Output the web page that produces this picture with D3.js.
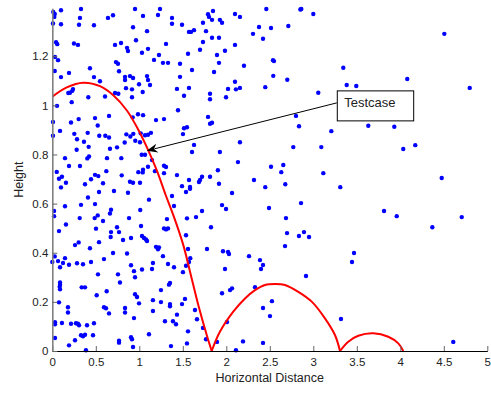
<!DOCTYPE html>
<html>
<head>
<meta charset="utf-8">
<script src="https://cdn.jsdelivr.net/npm/d3@7/dist/d3.min.js"></script>
<style>
  body { margin: 0; background: #fff; }
  svg { display: block; font-family: "Liberation Sans", Arial, Helvetica, sans-serif; }
</style>
</head>
<body>
<div id="chart"></div>
<script>
// scatter cloud [horizontal distance, height]
const scatterPoints = [
  [0.011,1.380],[0.028,1.372],[0.023,1.360],[0.100,1.387],[0.008,1.333],[0.100,1.330],[0.330,1.392],[0.318,1.356],
  [0.307,1.328],[0.479,1.326],[0.640,1.356],[0.698,1.367],[0.951,1.392],[1.043,1.364],[0.928,1.318],[1.089,1.302],
  [0.043,1.257],[0.057,1.249],[0.249,1.252],[0.295,1.246],[0.721,1.246],[0.790,1.254],[0.859,1.234],[0.870,1.221],
  [0.962,1.265],[1.031,1.214],[1.100,1.230],[0.031,1.197],[0.066,1.184],[0.732,1.176],[0.755,1.169],[0.028,1.140],
  [0.192,1.132],[0.433,1.151],[0.767,1.139],[0.100,1.115],[0.479,1.115],[0.548,1.098],[0.836,1.116],[0.836,1.103],
  [0.893,1.119],[0.928,1.111],[0.997,1.086],[1.089,1.119],[1.100,1.103],[0.847,1.070],[0.916,1.065],[0.238,1.066],
  [1.238,1.392],[1.215,1.368],[1.376,1.356],[1.376,1.332],[1.491,1.328],[1.790,1.371],[1.801,1.360],[1.847,1.384],
  [1.836,1.348],[1.926,1.348],[1.951,1.336],[1.732,1.336],[2.100,1.372],[2.157,1.360],[1.571,1.299],[1.594,1.299],
  [1.629,1.306],[1.767,1.302],[1.732,1.258],[1.836,1.275],[1.916,1.275],[2.100,1.246],[1.307,1.250],[1.226,1.205],
  [1.169,1.185],[1.272,1.173],[1.330,1.173],[1.468,1.169],[1.560,1.210],[1.698,1.226],[1.893,1.205],[1.985,1.222],
  [1.916,1.173],[1.859,1.136],[1.606,1.144],[2.203,1.161],[1.123,1.083],[1.468,1.116],[1.433,1.067],[1.571,1.071],
  [2.100,1.096],[2.020,1.067],[2.111,1.065],[2.157,1.071],
  [0.054,0.998],[0.184,1.050],[0.203,1.051],[0.230,1.059],[0.223,1.013],[0.414,1.033],[0.606,1.036],[0.721,1.050],
  [0.759,1.047],[0.916,1.033],[1.039,1.054],[0.008,0.932],[0.089,0.896],[0.215,0.930],[0.303,0.944],[0.491,0.948],
  [0.522,0.918],[0.652,0.957],[0.924,0.951],[0.985,0.964],[1.043,0.960],[0.008,0.876],[0.253,0.884],[0.284,0.862],
  [0.364,0.852],[0.407,0.888],[0.418,0.831],[0.540,0.876],[0.609,0.876],[0.652,0.869],[0.663,0.823],[0.744,0.829],
  [0.832,0.849],[0.851,0.882],[0.897,0.873],[0.931,0.884],[0.954,0.856],[1.008,0.850],[1.016,0.886],[0.280,0.819],
  [0.422,0.792],[0.402,0.784],[0.146,0.785],[0.192,0.753],[0.318,0.753],[0.629,0.785],[0.793,0.785],[1.028,0.799],
  [1.066,0.799],[0.051,0.729],[0.111,0.709],[0.491,0.717],[0.529,0.712],[0.621,0.732],[0.798,0.715],[0.989,0.728],
  [1.043,0.738],[1.100,0.750],[1.039,0.727],
  [1.514,1.039],[1.813,1.047],[1.813,1.025],[1.997,1.033],[1.445,0.980],[1.192,0.940],[1.284,0.944],[1.790,0.953],
  [1.813,0.925],[1.836,0.929],[2.157,0.850],[1.514,0.907],[1.548,0.911],[1.502,0.883],[1.066,0.878],[1.100,0.880],
  [1.134,0.888],[1.629,0.839],[1.606,0.810],[1.926,0.810],[2.134,0.769],[1.146,0.777],[1.284,0.754],[1.307,0.749],
  [1.180,0.732],[1.284,0.724],[1.433,0.716],[1.903,0.736],[1.721,0.709],[1.813,0.709],
  [0.077,0.701],[0.100,0.666],[0.157,0.685],[0.376,0.679],[0.445,0.699],[0.583,0.683],[0.537,0.647],[0.709,0.651],
  [0.870,0.644],[0.893,0.689],[0.928,0.685],[1.008,0.685],[0.410,0.625],[0.330,0.595],[0.491,0.598],[0.675,0.575],
  [0.663,0.560],[0.020,0.570],[0.020,0.549],[0.146,0.589],[0.315,0.541],[0.487,0.541],[0.522,0.552],[0.583,0.529],
  [0.882,0.541],[1.011,0.574],[1.111,0.616],[0.157,0.515],[0.502,0.498],[0.744,0.504],[0.675,0.484],[0.671,0.464],
  [0.767,0.484],[0.813,0.452],[0.905,0.460],[1.020,0.509],[1.031,0.468],[1.054,0.460],[1.077,0.454],[0.077,0.488],
  [0.537,0.443],[0.261,0.431],[0.303,0.442],[0.433,0.418],[0.698,0.399],[0.859,0.397],[0.028,0.385],[0.146,0.378],
  [0.000,0.362],[0.066,0.366],[0.123,0.358],[0.192,0.351],[0.284,0.357],[0.353,0.353],[0.445,0.362],[0.594,0.374],
  [0.905,0.349],
  [1.089,0.448],[1.192,0.424],[1.215,0.414],[1.226,0.422],[1.272,0.386],[1.157,0.358],[1.330,0.354],[1.284,0.499],
  [1.307,0.495],[1.330,0.499],[1.318,0.537],[1.376,0.631],[1.399,0.590],[1.491,0.671],[1.537,0.647],[1.583,0.668],
  [1.583,0.660],[1.571,0.696],[1.686,0.688],[1.698,0.696],[1.916,0.681],[2.066,0.643],[1.951,0.594],[1.997,0.578],
  [1.721,0.570],[1.652,0.545],[1.548,0.540],[1.824,0.504],[1.537,0.471],[1.560,0.415],[1.586,0.378],[1.571,0.362],
  [1.778,0.415],[1.962,0.406],[2.020,0.403],[2.031,0.395],[2.261,0.386],
  [0.089,0.341],[0.939,0.325],[1.031,0.332],[0.755,0.312],[0.525,0.312],[0.951,0.300],[0.778,0.279],[0.089,0.279],
  [0.089,0.270],[0.085,0.262],[0.089,0.251],[0.338,0.259],[0.376,0.259],[0.625,0.243],[0.510,0.227],[0.077,0.198],
  [0.951,0.231],[0.974,0.220],[0.997,0.194],[0.180,0.178],[0.180,0.157],[0.594,0.178],[0.617,0.174],[0.836,0.175],
  [0.836,0.157],[0.652,0.153],[0.939,0.134],[0.031,0.117],[0.031,0.109],[0.111,0.114],[0.215,0.111],[0.272,0.113],
  [0.295,0.111],[0.307,0.105],[0.399,0.105],[0.479,0.113],[1.111,0.068],[0.330,0.064],[0.353,0.060],[0.376,0.066],
  [0.468,0.064],[0.031,0.053],[0.192,0.023],[0.261,0.044],[0.387,0.003],[0.767,0.042],[0.767,0.034],[0.905,0.056],
  [0.916,0.048],[0.928,0.016],
  [1.146,0.334],[1.399,0.341],[1.502,0.321],[1.537,0.347],[1.985,0.334],[1.249,0.248],[1.341,0.270],[1.353,0.277],
  [1.157,0.207],[1.249,0.199],[1.353,0.191],[1.353,0.182],[1.491,0.191],[1.525,0.212],[1.157,0.163],[1.433,0.148],
  [1.295,0.121],[1.387,0.121],[1.422,0.109],[1.640,0.167],[1.663,0.129],[1.732,0.094],[1.560,0.080],[1.767,0.048],
  [1.364,0.020],[1.548,0.031],[1.951,0.235],[2.043,0.248],[2.066,0.255],[2.008,0.118],[1.893,0.037],[2.111,0.003],
  [2.192,0.039],
  [2.460,1.392],[2.851,1.390],[2.862,1.392],[3.000,1.372],[2.376,1.319],[2.514,1.315],[2.713,1.323],[2.307,1.291],
  [2.422,1.271],[4.506,1.291],[2.537,1.184],[2.548,1.180],[2.540,1.120],[2.701,1.104],[2.448,1.074],[3.345,1.153],
  [3.384,1.083],[3.494,1.079],[3.057,1.051],[4.080,1.107],[4.798,1.071],[2.801,0.957],[2.836,0.915],[3.207,0.895],
  [3.632,0.917],[3.931,0.913],[2.770,0.830],[3.092,0.830],[4.034,0.822],[4.172,0.838],[2.514,0.750],[2.655,0.757],
  [2.632,0.728],[3.115,0.724],[2.318,0.696],[2.448,0.667],[2.678,0.679],[3.310,0.667],[4.476,0.704],
  [2.491,0.582],[2.859,0.602],[2.686,0.541],[2.698,0.480],[2.835,0.468],[2.893,0.484],[2.951,0.464],[2.675,0.427],
  [2.387,0.370],[2.422,0.350],[2.399,0.334],[2.916,0.305],[3.445,0.362],[3.468,0.399],[3.813,0.570],[3.959,0.549],
  [4.368,0.504],[4.706,0.545],[2.330,0.260],[2.525,0.203],[2.422,0.175],[2.502,0.142],[3.318,0.130],[2.422,0.033],
  [4.609,0.037]
];

// bouncing trajectory
const trajectory = [
  [0.000,1.035],[0.166,1.073],[0.356,1.092],[0.548,1.078],[0.701,1.041],[0.855,0.980],[0.970,0.913],[1.085,0.831],
  [1.200,0.736],[1.303,0.635],[1.391,0.553],[1.506,0.431],[1.583,0.323],[1.678,0.187],[1.775,0.065],[1.832,0.000],
  [1.928,0.079],[2.080,0.160],[2.215,0.214],[2.330,0.248],[2.445,0.269],[2.560,0.273],[2.675,0.269],[2.828,0.241],
  [2.982,0.201],[3.134,0.133],[3.249,0.065],[3.307,0.000],
  [3.402,0.038],[3.517,0.062],[3.690,0.072],[3.862,0.058],[3.977,0.031],[4.034,0.000]
];
// the three arcs join at the bounce points
const bounceAt = [15, 27];

const xTicks = [0, 0.5, 1, 1.5, 2, 2.5, 3, 3.5, 4, 4.5, 5];
const yTicks = [0, 0.2, 0.4, 0.6, 0.8, 1, 1.2];
const xLabel = 'Horizontal Distance';
const yLabel = 'Height';
const noteText = 'Testcase';
const noteTip = [1.085, 0.815];
const noteTail = [3.27, 1.01];

const W = 491, H = 393;
const margin = {top: 8.3, right: 3.7, bottom: 42, left: 52.3};

const svg = d3.select('#chart').append('svg')
  .attr('width', W).attr('height', H);

const x = d3.scaleLinear().domain([0, 5]).range([margin.left, W - margin.right]);
const y = d3.scaleLinear().domain([0, 1.395]).range([H - margin.bottom, margin.top]);

const fmt = d => String(+d.toFixed(2));

// dots
svg.append('g').selectAll('circle')
  .data(scatterPoints)
  .join('circle')
  .attr('cx', d => x(d[0]))
  .attr('cy', d => y(d[1]))
  .attr('r', 2.2)
  .attr('fill', '#0000ff');

// red trajectory, drawn arc by arc so the bounces stay sharp
const arcs = [];
let start = 0;
bounceAt.concat([trajectory.length - 1]).forEach(end => {
  arcs.push(trajectory.slice(start, end + 1));
  start = end;
});
const line = d3.line()
  .x(d => x(d[0]))
  .y(d => y(d[1]))
  .curve(d3.curveCatmullRom.alpha(0.5));
svg.append('g').selectAll('path')
  .data(arcs)
  .join('path')
  .attr('d', line)
  .attr('fill', 'none')
  .attr('stroke', '#ff0000')
  .attr('stroke-width', 2)
  .attr('stroke-linejoin', 'round');

// axes
const gx = svg.append('g')
  .attr('transform', 'translate(0,' + y(0) + ')')
  .call(d3.axisBottom(x).tickValues(xTicks).tickFormat(fmt)
    .tickSizeInner(-5).tickSizeOuter(0).tickPadding(7));
const gy = svg.append('g')
  .attr('transform', 'translate(' + x(0) + ',0)')
  .call(d3.axisLeft(y).tickValues(yTicks).tickFormat(fmt)
    .tickSizeInner(-5).tickSizeOuter(0).tickPadding(4));

[gx, gy].forEach(g => {
  g.selectAll('text').attr('font-size', 11.5).attr('fill', '#222')
    .attr('font-family', '"Liberation Sans", Arial, Helvetica, sans-serif');
  g.selectAll('.tick line').attr('stroke', '#666');
});
gx.select('.domain').attr('stroke', '#000').attr('stroke-width', 1);
gy.select('.domain').attr('stroke', '#808080').attr('stroke-width', 1.6);

svg.append('text')
  .attr('x', (x(0) + x(5)) / 2)
  .attr('y', 382)
  .attr('text-anchor', 'middle')
  .attr('font-size', 12.5)
  .attr('fill', '#222')
  .text(xLabel);

svg.append('text')
  .attr('transform', 'translate(23,' + ((y(0) + y(1.395)) / 2) + ') rotate(-90)')
  .attr('text-anchor', 'middle')
  .attr('font-size', 12.5)
  .attr('fill', '#222')
  .text(yLabel);

// annotation arrow + text box
const tx = x(noteTail[0]), ty = y(noteTail[1]);
const hx = x(noteTip[0]), hy = y(noteTip[1]);
const ang = Math.atan2(hy - ty, hx - tx) * 180 / Math.PI;

svg.append('line')
  .attr('x1', tx).attr('y1', ty)
  .attr('x2', hx - 8 * Math.cos(ang * Math.PI / 180))
  .attr('y2', hy - 8 * Math.sin(ang * Math.PI / 180))
  .attr('stroke', '#000').attr('stroke-width', 1);

svg.append('path')
  .attr('d', 'M0,0L-11,-4.5L-7.5,0L-11,4.5Z')
  .attr('transform', 'translate(' + hx + ',' + hy + ') rotate(' + ang + ')')
  .attr('fill', '#000');

svg.append('rect')
  .attr('x', tx + 0.5).attr('y', ty - 12)
  .attr('width', 76.4).attr('height', 30)
  .attr('fill', '#fff').attr('stroke', '#000').attr('stroke-width', 1);

svg.append('text')
  .attr('x', tx + 7.5).attr('y', ty + 4)
  .attr('font-size', 13)
  .attr('fill', '#222')
  .text(noteText);
</script>
</body>
</html>
